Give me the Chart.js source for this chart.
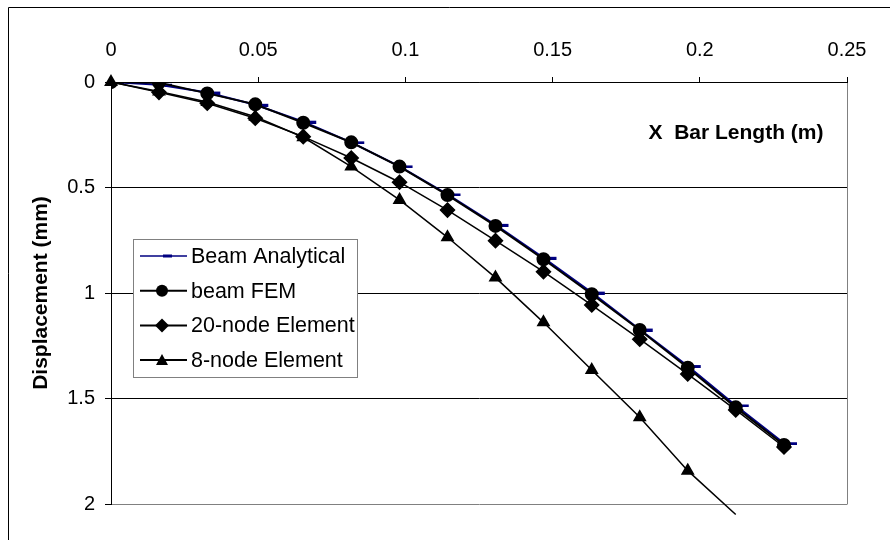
<!DOCTYPE html>
<html>
<head>
<meta charset="utf-8">
<script src="https://cdn.jsdelivr.net/npm/chart.js@4.4.1/dist/chart.umd.min.js"></script>
<style>
  html, body { margin: 0; padding: 0; background: #fff; }
  #wrap { position: relative; width: 890px; height: 540px; overflow: hidden; }
</style>
</head>
<body>
<div id="wrap"><canvas id="chart" width="890" height="540"></canvas></div>
<script>
// Positions along the bar (m)
const barLength = [0, 0.0163, 0.0327, 0.049, 0.0653, 0.0816, 0.098, 0.1143,
    0.1306, 0.1469, 0.1633, 0.1796, 0.1959, 0.2122, 0.2286];

// Displacement (mm) for each series
const beamAnalytical = [0, 0.013, 0.05, 0.108, 0.188, 0.286, 0.4, 0.533,
    0.677, 0.833, 0.998, 1.173, 1.346, 1.533, 1.712];
const beamFEM = [0, 0.003, 0.054, 0.106, 0.193, 0.286, 0.401, 0.536,
    0.682, 0.84, 1.006, 1.175, 1.354, 1.542, 1.72];
const node20 = [0, 0.049, 0.101, 0.172, 0.259, 0.36, 0.475, 0.607,
    0.752, 0.899, 1.057, 1.219, 1.384, 1.554, 1.73];
const node8 = [0, 0.045, 0.095, 0.165, 0.262, 0.401, 0.559, 0.736,
    0.927, 1.139, 1.365, 1.589, 1.842, 2.05];

const xTickStep = 0.05;
const yTickStep = 0.5;

const FONT = "'Liberation Sans', Arial, sans-serif";

function pairs(ys) {
    return ys.map((y, i) => ({ x: barLength[i], y: y }));
}

// plain number labels like Excel: 0.1 not 0.10, 1 not 1.0
function plainLabel(value) {
    return String(parseFloat(value.toFixed(4)));
}

// Excel style dash marker, sitting just right of the point
function makeDash() {
    const c = document.createElement('canvas');
    c.width = 30;
    c.height = 4;
    const g = c.getContext('2d');
    g.fillStyle = '#000080';
    g.fillRect(21, 1, 7, 3);
    return c;
}
const dashMarker = makeDash();

function drawMarker(ctx, style, x, y) {
    ctx.fillStyle = '#000';
    ctx.beginPath();
    if (style === 'circle') {
        ctx.arc(x, y, 6, 0, Math.PI * 2);
    } else if (style === 'diamond') {
        ctx.moveTo(x, y - 7);
        ctx.lineTo(x + 7, y);
        ctx.lineTo(x, y + 7);
        ctx.lineTo(x - 7, y);
        ctx.closePath();
    } else if (style === 'triangle') {
        ctx.moveTo(x, y - 6);
        ctx.lineTo(x + 6, y + 5);
        ctx.lineTo(x - 6, y + 5);
        ctx.closePath();
    }
    ctx.fill();
}

const legendItems = [
    { text: 'Beam Analytical', color: '#000080', marker: 'dash' },
    { text: 'beam FEM', color: '#000', marker: 'circle' },
    { text: '20-node Element', color: '#000', marker: 'diamond' },
    { text: '8-node Element', color: '#000', marker: 'triangle' }
];

const decor = {
    id: 'decor',
    beforeDraw(chart) {
        const ctx = chart.ctx;
        const a = chart.chartArea;
        ctx.save();
        ctx.fillStyle = '#fff';
        ctx.fillRect(0, 0, chart.width, chart.height);
        // outer chart border
        ctx.strokeStyle = '#000';
        ctx.lineWidth = 1;
        ctx.beginPath();
        ctx.moveTo(8.5, chart.height);
        ctx.lineTo(8.5, 7.5);
        ctx.lineTo(chart.width, 7.5);
        ctx.stroke();
        // plot area right edge
        ctx.strokeStyle = '#808080';
        ctx.beginPath();
        ctx.moveTo(a.right + 0.5, a.top);
        ctx.lineTo(a.right + 0.5, a.bottom + 0.5);
        ctx.stroke();
        ctx.restore();
    },
    afterDatasetsDraw(chart) {
        const ctx = chart.ctx;
        const a = chart.chartArea;
        ctx.save();

        // x axis title inside the plot
        ctx.fillStyle = '#000';
        ctx.font = 'bold 21px ' + FONT;
        ctx.textAlign = 'center';
        ctx.textBaseline = 'middle';
        ctx.fillText('X  Bar Length (m)', a.right - 111, a.top + 51);

        // legend box
        const bx = 133, by = 239, bw = 224, bh = 138;
        ctx.fillStyle = '#fff';
        ctx.fillRect(bx, by, bw, bh);
        ctx.strokeStyle = '#808080';
        ctx.lineWidth = 1;
        ctx.strokeRect(bx + 0.5, by + 0.5, bw, bh);

        ctx.font = '21.5px ' + FONT;
        ctx.textAlign = 'left';
        legendItems.forEach((item, i) => {
            const y = 256 + i * 34.7;
            ctx.strokeStyle = item.color;
            ctx.lineWidth = item.marker === 'dash' ? 1.5 : 2;
            ctx.beginPath();
            ctx.moveTo(140, y);
            ctx.lineTo(187, y);
            ctx.stroke();
            if (item.marker === 'dash') {
                ctx.fillStyle = '#000080';
                ctx.fillRect(163, y - 1.5, 9, 3);
            } else {
                drawMarker(ctx, item.marker, 162, y);
            }
            ctx.fillStyle = '#000';
            ctx.fillText(item.text, 191, y + 1);
        });
        ctx.restore();
    }
};

const ctx = document.getElementById('chart').getContext('2d');
const chart = new Chart(ctx, {
    type: 'line',
    data: {
        datasets: [
            {
                label: 'Beam Analytical',
                data: pairs(beamAnalytical),
                borderColor: '#000080',
                borderWidth: 2,
                pointStyle: dashMarker,
                pointRadius: 6,
                order: 4
            },
            {
                label: 'beam FEM',
                data: pairs(beamFEM),
                borderColor: '#000',
                backgroundColor: '#000',
                borderWidth: 2,
                pointStyle: 'circle',
                pointRadius: 6,
                order: 3
            },
            {
                label: '20-node Element',
                data: pairs(node20),
                borderColor: '#000',
                backgroundColor: '#000',
                borderWidth: 1.5,
                pointStyle: 'rectRot',
                pointRadius: 7,
                order: 2
            },
            {
                label: '8-node Element',
                data: pairs(node8),
                borderColor: '#000',
                backgroundColor: '#000',
                borderWidth: 1.5,
                pointStyle: 'triangle',
                pointRadius: node8.map((v, i) => i === node8.length - 1 ? 0 : 6.5),
                clip: false,
                order: 1
            }
        ]
    },
    options: {
        responsive: false,
        animation: false,
        layout: { padding: { left: 0, top: 0, right: 43, bottom: 36 } },
        elements: { line: { tension: 0 }, point: { borderWidth: 0 } },
        plugins: {
            legend: { display: false },
            tooltip: { enabled: false }
        },
        scales: {
            x: {
                type: 'linear',
                position: 'top',
                min: 0,
                max: 0.25,
                ticks: {
                    stepSize: xTickStep,
                    color: '#000',
                    padding: 15,
                    font: { family: FONT, size: 20 },
                    callback: plainLabel
                },
                grid: { drawOnChartArea: false, drawTicks: true, tickLength: 5, color: '#000' },
                border: { display: true, color: '#000', width: 1 },
                afterFit(scale) { scale.height = 82; }
            },
            y: {
                type: 'linear',
                min: 0,
                max: 2,
                reverse: true,
                ticks: {
                    stepSize: yTickStep,
                    color: '#000',
                    padding: 10,
                    font: { family: FONT, size: 20 },
                    callback: plainLabel
                },
                grid: {
                    color: c => (c.tick && c.tick.value === 2) ? '#808080' : '#000',
                    tickColor: '#000',
                    tickLength: 6,
                    lineWidth: 1
                },
                border: { display: true, color: '#000', width: 1 },
                title: {
                    display: true,
                    text: 'Displacement (mm)',
                    color: '#000',
                    font: { family: FONT, size: 21, weight: 'bold' },
                    padding: { top: 29, bottom: 0 }
                },
                afterFit(scale) { scale.width = 111; }
            }
        }
    },
    plugins: [decor]
});
</script>
</body>
</html>
